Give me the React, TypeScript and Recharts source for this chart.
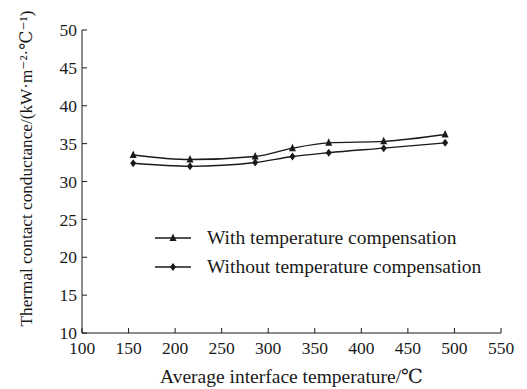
import React from "react";
import { LineChart, Line, XAxis, YAxis, Legend, Label } from "recharts";

const temperatures = [155, 216, 286, 326, 365, 424, 490];
const withComp = [33.5, 32.9, 33.3, 34.4, 35.1, 35.3, 36.2];
const withoutComp = [32.4, 32.0, 32.5, 33.3, 33.8, 34.4, 35.1];
const xTicks = [100, 150, 200, 250, 300, 350, 400, 450, 500, 550];
const yTicks = [10, 15, 20, 25, 30, 35, 40, 45, 50];
const seriesNames = ["With temperature compensation", "Without temperature compensation"];
const xTitle = "Average interface temperature/℃";
const yTitle = "Thermal contact conductance/(kW·m⁻²·℃⁻¹)";

const data = temperatures.map((t, i) => ({ t, a: withComp[i], b: withoutComp[i] }));

const FONT = "'Liberation Serif', 'DejaVu Serif', serif";
const INK = "#1a1a1a";

const Triangle = (props: any) => {
  const { cx, cy } = props;
  if (cx == null || cy == null) return null;
  return <path d={`M${cx},${cy - 4.5} L${cx + 3.5},${cy + 3} L${cx - 3.5},${cy + 3} Z`} fill={INK} />;
};
const Diamond = (props: any) => {
  const { cx, cy } = props;
  if (cx == null || cy == null) return null;
  return <path d={`M${cx},${cy - 4} L${cx + 3},${cy} L${cx},${cy + 4} L${cx - 3},${cy} Z`} fill={INK} />;
};

const LegendContent = () => (
  <svg width={370} height={60} style={{ overflow: "visible", display: "block" }}>
    {seriesNames.map((n, i) => {
      const y = 13 + i * 29;
      return (
        <g key={n}>
          <line x1={5} x2={41} y1={y} y2={y} stroke={INK} strokeWidth={1.4} />
          {i === 0 ? <Triangle cx={23} cy={y} /> : <Diamond cx={23} cy={y} />}
          <text x={57} y={y + 6} fontFamily={FONT} fontSize={19.5} fill={INK}>{n}</text>
        </g>
      );
    })}
  </svg>
);

const YTitle = (props: any) => {
  const vb = props.viewBox || { x: 0, y: 0, width: 0, height: 0 };
  const cx = vb.x + 32;
  const cy = vb.y + vb.height / 2 - 13;
  return (
    <text
      x={cx}
      y={cy}
      transform={`rotate(-90 ${cx} ${cy})`}
      textAnchor="middle"
      fontFamily={FONT}
      fontSize={17.2}
      fill={INK}
    >
      {yTitle}
    </text>
  );
};

export default function App() {
  return (
    <div style={{ position: "absolute", left: 0, top: 0, background: "#fff" }}>
      <LineChart width={527} height={389} data={data} margin={{ top: 30, right: 26, bottom: 0, left: 0 }}>
        <XAxis
          dataKey="t"
          type="number"
          domain={[100, 550]}
          ticks={xTicks}
          interval={0}
          height={56}
          tickSize={-5}
          tickMargin={14}
          stroke={INK}
          tick={{ fill: INK, fontSize: 17.5, fontFamily: FONT }}
          allowDataOverflow
        >
          <Label value={xTitle} position="insideBottom" offset={6} style={{ fill: INK, fontSize: 19.5, fontFamily: FONT }} />
        </XAxis>
        <YAxis
          type="number"
          domain={[10, 50]}
          ticks={yTicks}
          interval={0}
          width={82}
          tickSize={-5}
          tickMargin={10}
          stroke={INK}
          tick={{ fill: INK, fontSize: 17.5, fontFamily: FONT }}
        >
          <Label content={<YTitle />} />
        </YAxis>
        <Legend
          layout="horizontal"
          verticalAlign="middle"
          align="center"
          content={<LegendContent />}
          wrapperStyle={{ position: "absolute", left: 150, top: 225, width: 370 }}
        />
        <Line type="monotone" dataKey="a" name={seriesNames[0]} stroke={INK} strokeWidth={1.4} dot={<Triangle />} activeDot={false} isAnimationActive={false} />
        <Line type="monotone" dataKey="b" name={seriesNames[1]} stroke={INK} strokeWidth={1.4} dot={<Diamond />} activeDot={false} isAnimationActive={false} />
      </LineChart>
    </div>
  );
}
